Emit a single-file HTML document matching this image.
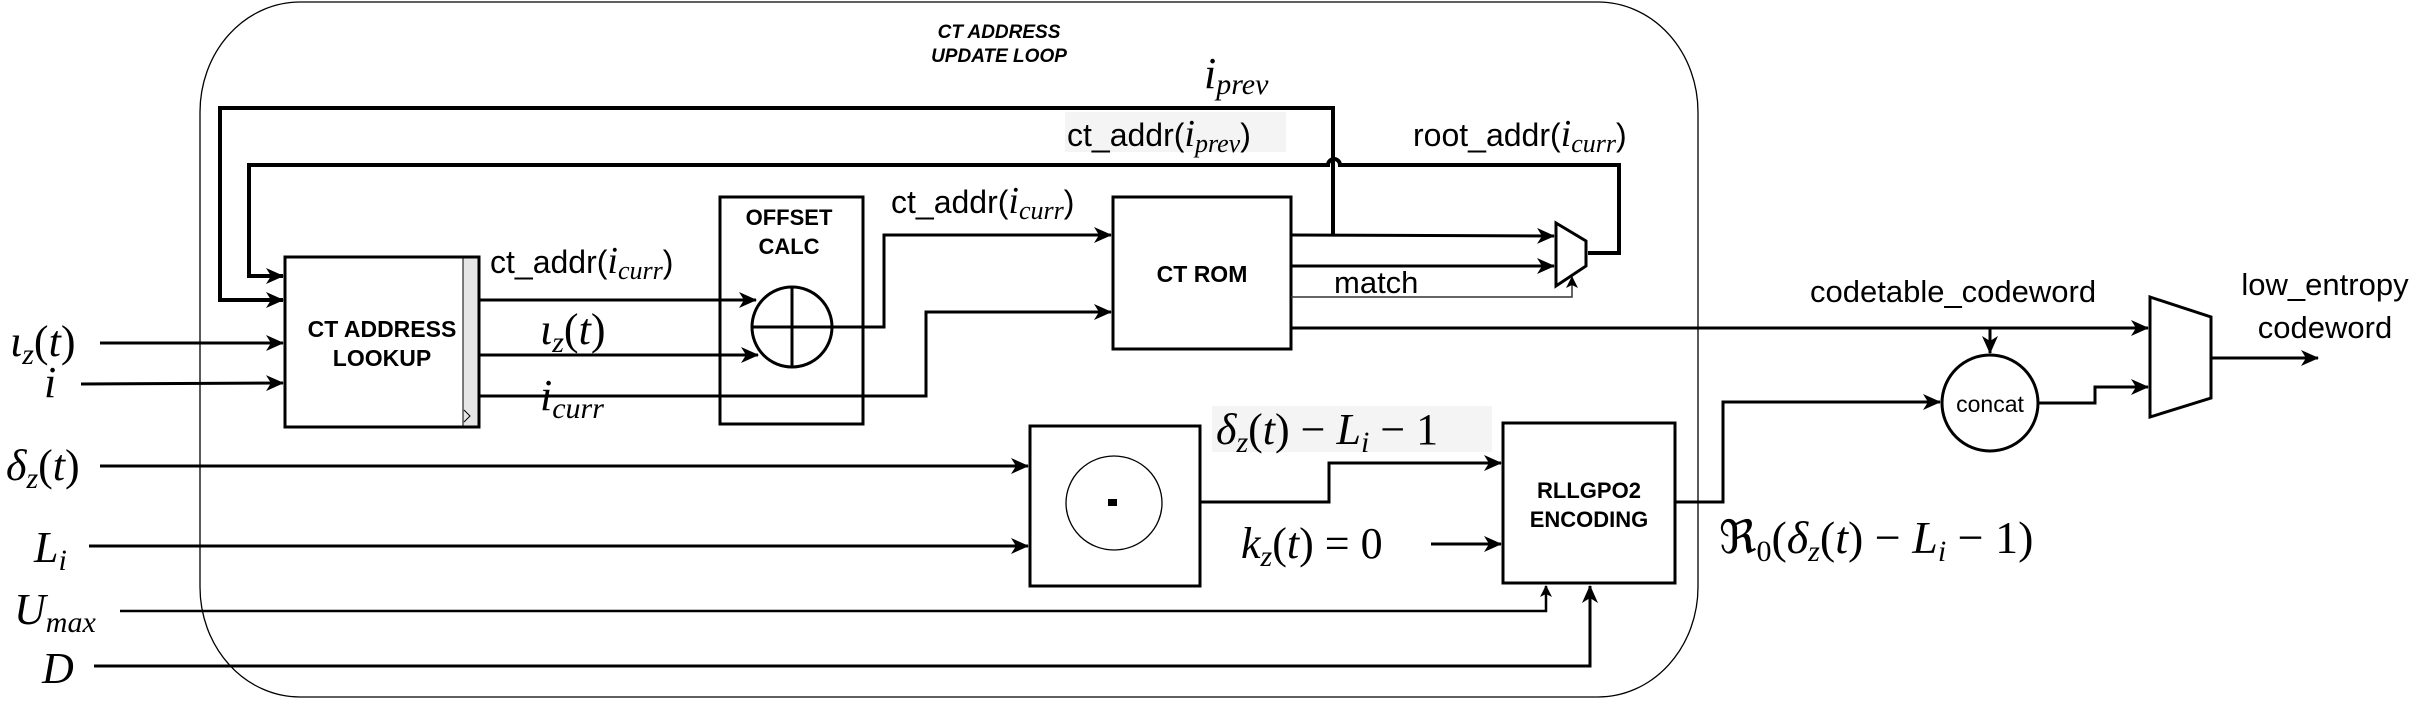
<!DOCTYPE html>
<html><head><meta charset="utf-8"><style>
html,body{margin:0;padding:0;background:#fff;}
svg{display:block;}
.s{font-family:"Liberation Sans",sans-serif;}
.m{font-family:"Liberation Serif",serif;font-style:italic;}
.r{font-family:"Liberation Serif",serif;font-style:normal;}
</style></head><body>
<svg width="2421" height="724" viewBox="0 0 2421 724" xmlns="http://www.w3.org/2000/svg">
<defs>
<marker id="a" markerWidth="18" markerHeight="16" refX="17" refY="8" orient="auto" markerUnits="userSpaceOnUse" viewBox="0 0 18 16">
<path d="M0,0 L18,8 L0,16 L5,8 z" fill="#000"/></marker>
<marker id="b" markerWidth="12" markerHeight="12" refX="11" refY="6" orient="auto" markerUnits="userSpaceOnUse" viewBox="0 0 12 12">
<path d="M0,0 L12,6 L0,12 L3,6 z" fill="#000"/></marker>
</defs>
<rect x="200" y="2" width="1498" height="695" rx="100" ry="110" fill="none" stroke="#000" stroke-width="1.3"/>
<text x="999" y="38" text-anchor="middle" class="s" font-size="19" font-weight="bold" font-style="italic">CT ADDRESS</text>
<text x="999" y="62" text-anchor="middle" class="s" font-size="19" font-weight="bold" font-style="italic">UPDATE LOOP</text>

<g fill="#fff" stroke="#000" stroke-width="3">
<rect x="285" y="257" width="194" height="170"/>
<rect x="720" y="197" width="143" height="227" fill="none"/>
<rect x="1113" y="197" width="178" height="152"/>
<rect x="1030" y="426" width="170" height="160"/>
<rect x="1503" y="423" width="172" height="160"/>
<path d="M1556,223 L1586,241 L1586,266 L1556,286 Z"/>
<path d="M2150,297 L2211,317 L2211,398 L2150,417 Z"/>
<circle cx="1990" cy="403" r="48"/>
</g>
<rect x="463" y="258" width="15" height="168" fill="#e6e6e6" stroke="#000" stroke-width="1"/>
<path d="M464,410 L470,416 L464,422" fill="none" stroke="#000" stroke-width="1"/>
<circle cx="792" cy="327" r="40" fill="#fff" stroke="#000" stroke-width="3"/>
<path d="M752,327 L832,327 M792,287 L792,367" stroke="#000" stroke-width="3"/>
<ellipse cx="1114" cy="503" rx="48" ry="47" fill="#fff" stroke="#000" stroke-width="1.3"/>
<rect x="1108" y="499" width="9" height="7" fill="#000"/>

<g fill="none" stroke="#000" stroke-width="4">
<path d="M1333,235 L1333,108 L220,108 L220,300 L283,300" marker-end="url(#a)"/>
<path d="M1588,253 L1619,253 L1619,165 L1340,165 A6,6 0 0 0 1328,165 L249,165 L249,276 L283,276" marker-end="url(#a)"/>
</g>

<g fill="none" stroke="#000" stroke-width="3">
<path d="M100,343 L283,343" marker-end="url(#a)"/>
<path d="M81,384 L283,383" marker-end="url(#a)"/>
<path d="M100,466 L1028,466" marker-end="url(#a)"/>
<path d="M89,546 L1028,546" marker-end="url(#a)"/>
<path d="M120,611 L1546,611 L1546,586" marker-end="url(#b)" stroke-width="2.5"/>
<path d="M94,666 L1590,666 L1590,586" marker-end="url(#a)"/>
<path d="M479,300 L756,300" marker-end="url(#a)"/>
<path d="M479,355 L758,355" marker-end="url(#a)"/>
<path d="M479,396 L926,396 L926,312 L1111,312" marker-end="url(#a)"/>
<path d="M832,327 L884,327 L884,235 L1111,235" marker-end="url(#a)"/>
<path d="M1291,235 L1554,236" marker-end="url(#a)"/>
<path d="M1291,266 L1554,266" marker-end="url(#a)"/>
<path d="M1291,297 L1572,297 L1572,277" marker-end="url(#b)" stroke-width="1.5" stroke="#333"/>
<path d="M1291,328 L2148,328" marker-end="url(#a)"/>
<path d="M1990,328 L1990,353" marker-end="url(#a)"/>
<path d="M2038,403 L2095,403 L2095,387 L2148,387" marker-end="url(#a)"/>
<path d="M2211,358 L2318,358" marker-end="url(#a)"/>
<path d="M1200,502 L1329,502 L1329,463 L1501,463" marker-end="url(#a)"/>
<path d="M1431,544 L1501,544" marker-end="url(#a)"/>
<path d="M1675,502 L1723,502 L1723,402 L1940,402" marker-end="url(#a)"/>
</g>

<g class="s" font-weight="bold" text-anchor="middle" font-size="23">
<text x="382" y="337">CT ADDRESS</text>
<text x="382" y="366">LOOKUP</text>
<text x="789" y="225" font-size="22">OFFSET</text>
<text x="789" y="254" font-size="22">CALC</text>
<text x="1202" y="282">CT ROM</text>
<text x="1589" y="498" font-size="22">RLLGPO2</text>
<text x="1589" y="527" font-size="22">ENCODING</text>
</g>
<text x="1990" y="412" class="s" font-size="23" text-anchor="middle">concat</text>

<g class="s" font-size="32">
<text x="490" y="273">ct_addr(<tspan class="m" font-size="38">i<tspan font-size="26" dy="6">curr</tspan></tspan><tspan dy="-6">)</tspan></text>
<text x="891" y="213">ct_addr(<tspan class="m" font-size="38">i<tspan font-size="26" dy="6">curr</tspan></tspan><tspan dy="-6">)</tspan></text>
<rect x="1065" y="112" width="221" height="40" fill="#f4f4f4"/>
<text x="1067" y="146">ct_addr(<tspan class="m" font-size="38">i<tspan font-size="26" dy="6">prev</tspan></tspan><tspan dy="-6">)</tspan></text>
<text x="1413" y="146">root_addr(<tspan class="m" font-size="38">i<tspan font-size="26" dy="6">curr</tspan></tspan><tspan dy="-6">)</tspan></text>
<text x="1334" y="293" font-size="31">match</text>
<text x="1810" y="302" font-size="31">codetable_codeword</text>
<text x="2325" y="295" font-size="31" text-anchor="middle">low_entropy</text>
<text x="2325" y="338" font-size="31" text-anchor="middle">codeword</text>
</g>

<g class="m" font-size="44">
<text x="1204" y="88">i<tspan font-size="30" dy="6">prev</tspan></text>
<text x="10" y="356">ι<tspan font-size="30" dy="8">z</tspan><tspan class="r" dy="-8">(</tspan>t<tspan class="r">)</tspan></text>
<text x="44" y="397">i</text>
<text x="6" y="480">δ<tspan font-size="30" dy="8">z</tspan><tspan class="r" dy="-8">(</tspan>t<tspan class="r">)</tspan></text>
<text x="34" y="562">L<tspan font-size="30" dy="8">i</tspan></text>
<text x="14" y="624">U<tspan font-size="30" dy="8">max</tspan></text>
<text x="42" y="683">D</text>
<text x="540" y="344">ι<tspan font-size="30" dy="8">z</tspan><tspan class="r" dy="-8">(</tspan>t<tspan class="r">)</tspan></text>
<text x="540" y="410">i<tspan font-size="30" dy="8">curr</tspan></text>
<rect x="1212" y="406" width="280" height="46" fill="#f4f4f4"/>
<text x="1216" y="444">δ<tspan font-size="30" dy="8">z</tspan><tspan class="r" dy="-8">(</tspan>t<tspan class="r">) − </tspan>L<tspan font-size="30" dy="8">i</tspan><tspan class="r" dy="-8"> − 1</tspan></text>
<text x="1241" y="558">k<tspan font-size="30" dy="8">z</tspan><tspan class="r" dy="-8">(</tspan>t<tspan class="r">) = 0</tspan></text>
<text x="1719" y="553" font-size="46"><tspan class="r">ℜ</tspan><tspan class="r" font-size="30" dy="8">0</tspan><tspan class="r" dy="-8">(</tspan>δ<tspan font-size="30" dy="8">z</tspan><tspan class="r" dy="-8">(</tspan>t<tspan class="r">) − </tspan>L<tspan font-size="30" dy="8">i</tspan><tspan class="r" dy="-8"> − 1)</tspan></text>
</g>
</svg>
</body></html>
